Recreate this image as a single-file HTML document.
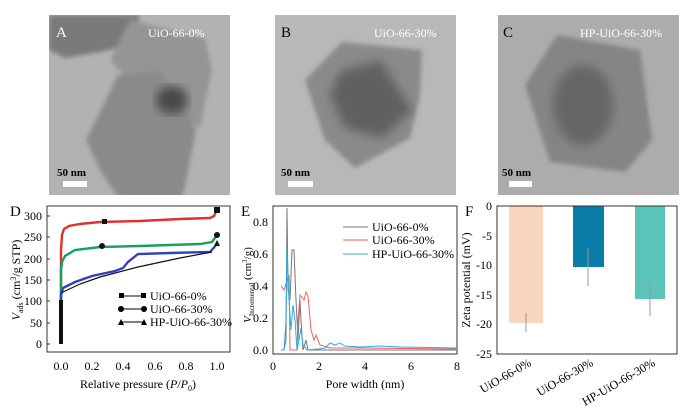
<!DOCTYPE html>
<html><head><meta charset="utf-8"><style>
body{margin:0;background:#fff}
svg{display:block;font-family:"Liberation Serif",serif}
</style></head><body>
<svg width="700" height="417" viewBox="0 0 700 417" xmlns="http://www.w3.org/2000/svg">
<defs>
<filter id="bl"><feGaussianBlur stdDeviation="5"/></filter>
<filter id="bl2"><feGaussianBlur stdDeviation="2"/></filter>
<clipPath id="ca"><rect x="49" y="15" width="181" height="180"/></clipPath>
<clipPath id="cb"><rect x="275" y="15" width="181" height="180"/></clipPath>
<clipPath id="cc"><rect x="498" y="15" width="181" height="180"/></clipPath>
</defs>
<!-- TEM A -->
<g clip-path="url(#ca)">
<rect x="49" y="15" width="181" height="180" fill="#b2b2b2"/>
<polygon points="49,15 140,15 130,45 100,52 65,58 49,50" fill="#7a7a7a" filter="url(#bl2)"/>
<polygon points="130,20 205,38 212,70 200,128 160,115 110,60" fill="#959595" filter="url(#bl2)"/>
<polygon points="118,75 162,72 196,130 180,210 125,208 100,170 86,140" fill="#8a8a8a" filter="url(#bl2)"/>
<ellipse cx="172" cy="100" rx="16" ry="14" fill="#4a4a4a" filter="url(#bl)"/>
<text x="56" y="37" font-size="15" fill="#fff">A</text>
<text x="148" y="37" font-size="12" fill="#fff">UiO-66-0%</text>
<text x="57" y="176" font-size="11" font-weight="bold" fill="#000">50 nm</text>
<rect x="63" y="181" width="24" height="6" fill="#fff"/>
</g>
<!-- TEM B -->
<g clip-path="url(#cb)">
<rect x="275" y="15" width="181" height="180" fill="#b8b8b8"/>
<polygon points="342,42 422,50 420,95 410,138 355,168 325,140 305,80" fill="#8a8a8a" filter="url(#bl2)"/>
<polygon points="340,72 380,60 412,110 382,138 345,128 330,95" fill="#606060" filter="url(#bl)"/>
<text x="281" y="37" font-size="15" fill="#000">B</text>
<text x="374" y="37" font-size="12" fill="#fff">UiO-66-30%</text>
<text x="281" y="176" font-size="11" font-weight="bold" fill="#000">50 nm</text>
<rect x="288" y="181" width="25" height="6" fill="#fff"/>
</g>
<!-- TEM C -->
<g clip-path="url(#cc)">
<rect x="498" y="15" width="181" height="180" fill="#acacac"/>
<polygon points="557,35 640,50 652,140 625,172 550,162 525,85" fill="#858585" filter="url(#bl2)"/>
<ellipse cx="583" cy="105" rx="30" ry="40" fill="#666" filter="url(#bl)"/>
<text x="503" y="37" font-size="15" fill="#000">C</text>
<text x="580" y="37" font-size="12" fill="#fff">HP-UiO-66-30%</text>
<text x="502" y="176" font-size="11" font-weight="bold" fill="#000">50 nm</text>
<rect x="509" y="181" width="23" height="6" fill="#fff"/>
</g>

<!-- D -->
<text x="10" y="216" font-size="15">D</text>
<rect x="47" y="206" width="183" height="146" fill="none" stroke="#333" stroke-width="1"/>
<g font-size="12" text-anchor="end">
<text x="42" y="220">300</text><text x="42" y="241">250</text><text x="42" y="263">200</text><text x="42" y="284">150</text><text x="42" y="305">100</text><text x="42" y="327">50</text><text x="42" y="348">0</text>
</g>
<g stroke="#333"><line x1="47" y1="216" x2="50" y2="216"/><line x1="47" y1="237" x2="50" y2="237"/><line x1="47" y1="259" x2="50" y2="259"/><line x1="47" y1="280" x2="50" y2="280"/><line x1="47" y1="301" x2="50" y2="301"/><line x1="47" y1="323" x2="50" y2="323"/><line x1="47" y1="344" x2="50" y2="344"/></g>
<g font-size="12" text-anchor="middle">
<text x="61" y="370">0.0</text><text x="92" y="370">0.2</text><text x="123" y="370">0.4</text><text x="155" y="370">0.6</text><text x="186" y="370">0.8</text><text x="217" y="370">1.0</text>
<text x="138" y="388">Relative pressure (<tspan font-style="italic">P</tspan>/<tspan font-style="italic">P</tspan><tspan font-size="8" dy="3">0</tspan><tspan dy="-3">)</tspan></text>
</g>
<text transform="translate(20,280) rotate(-90)" font-size="12" text-anchor="middle"><tspan font-style="italic">V</tspan><tspan font-size="8" dy="3">ads</tspan><tspan dy="-3"> (cm</tspan><tspan font-size="8" dy="-4">3</tspan><tspan dy="4">/g STP)</tspan></text>
<g fill="none" stroke-width="2.4">
<path d="M61,344 L61,250 L62,235 L64,229 L69,226 L80,224 L100,222 L140,221 L180,219 L210,218 L214,216 L217,210" stroke="#e03030"/>
<path d="M61,344 L61,270 L62,262 L65,256 L75,250 L100,247 L140,246 L200,244 L212,242 L217,235" stroke="#15a060"/>
<path d="M61,344 L61,295 L63,288 L75,282 L92,276 L115,271 L123,268 L128,262 L138,254 L170,253 L210,252 L217,244" stroke="#3040c0"/>
<path d="M61,293 L80,284 L100,277 L138,267 L180,258 L212,252" stroke="#111" stroke-width="1.2"/>
</g>
<g fill="#111"><rect x="59" y="300" width="4" height="44"/><rect x="102" y="219" width="5" height="5"/><rect x="214" y="207" width="6" height="6"/><circle cx="217" cy="235" r="3"/><circle cx="102" cy="246" r="3"/><polygon points="217,240 220,246 214,246"/></g>
<g font-size="12">
<line x1="120" y1="296" x2="145" y2="296" stroke="#000"/><rect x="119" y="293" width="5" height="5"/><rect x="141" y="293" width="5" height="5"/><text x="150" y="300">UiO-66-0%</text>
<line x1="120" y1="309" x2="145" y2="309" stroke="#000"/><circle cx="121" cy="309" r="3"/><circle cx="144" cy="309" r="3"/><text x="150" y="313">UiO-66-30%</text>
<line x1="120" y1="322" x2="145" y2="322" stroke="#000"/><polygon points="121,319 124,325 118,325"/><polygon points="144,319 147,325 141,325"/><text x="150" y="326">HP-UiO-66-30%</text>
</g>

<!-- E -->
<text x="241" y="216" font-size="15">E</text>
<rect x="273" y="206" width="184" height="148" fill="none" stroke="#333"/>
<g font-size="12" text-anchor="end">
<text x="268" y="226">0.8</text><text x="268" y="258">0.6</text><text x="268" y="290">0.4</text><text x="268" y="322">0.2</text><text x="268" y="354">0.0</text>
</g>
<g font-size="12" text-anchor="middle">
<text x="273" y="370">0</text><text x="319" y="370">2</text><text x="365" y="370">4</text><text x="411" y="370">6</text><text x="457" y="370">8</text>
<text x="365" y="388">Pore width (nm)</text>
</g>
<text transform="translate(251,285) rotate(-90)" font-size="11" text-anchor="middle"><tspan font-style="italic">V</tspan><tspan font-size="7" dy="3">Incremental</tspan><tspan dy="-3"> (cm</tspan><tspan font-size="7" dy="-4">3</tspan><tspan dy="4">/g)</tspan></text>
<g fill="none" stroke-width="1">
<path d="M281,350 L284,350 L286,340 L287,208 L288,290 L290,300 L292,250 L294,250 L296,300 L298,340 L300,300 L301,320 L303,350 L306,340 L308,350 L312,350 L330,350 L457,350" stroke="#777"/>
<path d="M281,286 L284,290 L287,280 L289,275 L290,350 L297,350 L298,320 L300,295 L304,300 L306,292 L308,296 L311,330 L314,340 L316,335 L320,345 L330,348 L360,348 L457,349" stroke="#f06060"/>
<path d="M281,350 L284,350 L286,320 L287,248 L289,300 L291,330 L293,305 L295,320 L297,350 L299,340 L301,328 L303,345 L307,350 L318,349 L325,348 L330,343 L335,345 L340,343 L345,346 L360,347 L380,346 L400,347 L457,348" stroke="#30a8e0"/>
</g>
<g font-size="12">
<line x1="343" y1="227" x2="368" y2="227" stroke="#777"/><text x="372" y="231">UiO-66-0%</text>
<line x1="343" y1="240" x2="368" y2="240" stroke="#f06060"/><text x="372" y="244">UiO-66-30%</text>
<line x1="343" y1="254" x2="368" y2="254" stroke="#30a8e0"/><text x="372" y="258">HP-UiO-66-30%</text>
</g>

<!-- F -->
<text x="465" y="216" font-size="15">F</text>
<rect x="509" y="206" width="34" height="117" fill="#f8d5bf"/>
<rect x="573" y="206" width="31" height="61" fill="#0a7ea8"/>
<rect x="635" y="206" width="30" height="93" fill="#5bc4b8"/>
<g stroke="#999"><line x1="526" y1="313" x2="526" y2="332"/><line x1="588" y1="248" x2="588" y2="286"/><line x1="650" y1="282" x2="650" y2="316"/></g>
<rect x="497" y="206" width="180" height="148" fill="none" stroke="#333"/>
<g font-size="12" text-anchor="end">
<text x="492" y="210">0</text><text x="492" y="240">-5</text><text x="492" y="269">-10</text><text x="492" y="299">-15</text><text x="492" y="328">-20</text><text x="492" y="358">-25</text>
</g>
<text transform="translate(470,280) rotate(-90)" font-size="12" text-anchor="middle">Zeta potential (mV)</text>
<g font-size="12" text-anchor="end">
<text transform="translate(532,365) rotate(-30)">UiO-66-0%</text>
<text transform="translate(594,365) rotate(-30)">UiO-66-30%</text>
<text transform="translate(656,365) rotate(-30)">HP-UiO-66-30%</text>
</g>
</svg>
</body></html>
